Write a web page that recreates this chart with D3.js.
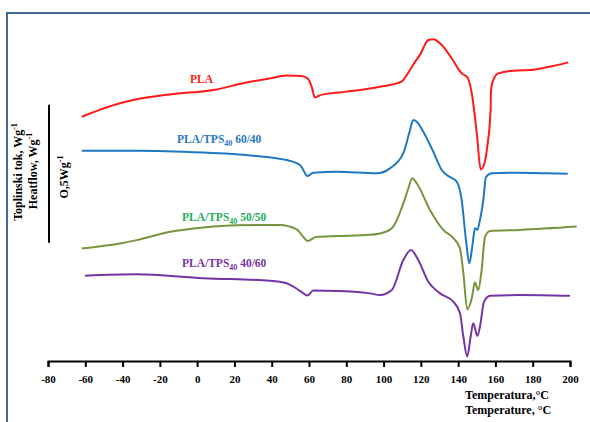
<!DOCTYPE html>
<html>
<head>
<meta charset="utf-8">
<script src="https://cdn.jsdelivr.net/npm/d3@7"></script>
<style>
body { margin: 0; background: #fff; }
text { font-family: "Liberation Serif", "Times New Roman", serif; font-weight: bold; }
</style>
</head>
<body>
<div id="chart"></div>
<script>
// DSC heating curves, heat flow in W/g (curves are stacked with their own offsets)

var tempTicks = [-80, -60, -40, -20, 0, 20, 40, 60, 80, 100, 120, 140, 160, 180, 200];

var plaT = [-61.9, -41.4, -32.4, -14.6, 10.5, 24.6, 39.1, 48.0, 56.1, 59.6, 61.4, 63.2, 65.0, 67.7, 80.2, 98.1,
  109.7, 112.4, 116.9, 119.5, 124.0, 126.7, 131.2, 136.5, 141.9, 144.9, 147.3, 150.0, 152.1, 153.5, 155.6,
  157.4, 157.6, 158.5, 161.5, 169.6, 178.5, 187.5, 199.1];
var plaQ = [0.885, 0.934, 0.948, 0.966, 0.984, 1.006, 1.024, 1.034, 1.033, 1.022, 0.994, 0.955, 0.960, 0.966, 0.976, 0.994,
  1.012, 1.036, 1.084, 1.109, 1.163, 1.166, 1.145, 1.097, 1.042, 1.028, 0.970, 0.825, 0.694, 0.704, 0.776,
  0.909, 0.976, 1.012, 1.042, 1.052, 1.054, 1.064, 1.082];

var b6040T = [-61.9, -32.4, 3.3, 30.1, 48.0, 55.2, 56.9, 59.1, 62.3, 74.9, 96.3, 103.4, 110.6, 114.2, 115.9, 117.8,
  121.3, 126.7, 131.2, 134.7, 139.2, 141.9, 144.2, 146.0, 147.8, 149.0, 150.3, 151.7, 153.5, 154.9, 158.0,
  169.6, 187.5, 198.8];
var b6040Q = [0.762, 0.762, 0.755, 0.744, 0.728, 0.710, 0.692, 0.670, 0.682, 0.686, 0.680, 0.698, 0.753, 0.837, 0.873, 0.867,
  0.831, 0.758, 0.692, 0.670, 0.650, 0.583, 0.438, 0.354, 0.426, 0.481, 0.475, 0.511, 0.583, 0.666, 0.680,
  0.682, 0.680, 0.678];

var b5050T = [-61.9, -41.4, -32.4, -14.6, 3.3, 21.2, 44.4, 53.4, 56.9, 59.1, 64.1, 74.9, 92.7, 102.5, 105.2, 110.6,
  113.3, 115.4, 117.8, 124.9, 132.0, 137.4, 141.0, 142.8, 144.9, 147.3, 149.0, 150.8, 152.6, 154.4, 157.1,
  173.2, 203.6];
var b5050Q = [0.408, 0.426, 0.438, 0.468, 0.484, 0.492, 0.493, 0.477, 0.450, 0.435, 0.450, 0.453, 0.457, 0.472, 0.487, 0.571,
  0.626, 0.662, 0.644, 0.547, 0.475, 0.445, 0.408, 0.318, 0.187, 0.227, 0.284, 0.257, 0.330, 0.450, 0.471,
  0.475, 0.487];

var b4060T = [-60.2, -32.4, 3.3, 39.1, 48.0, 55.2, 59.1, 62.3, 74.9, 92.7, 98.1, 104.4, 110.6, 114.7, 118.6, 124.0,
  130.3, 137.4, 141.0, 142.8, 144.9, 146.7, 148.1, 150.3, 151.7, 153.9, 157.1, 173.2, 200];
var b4060Q = [0.309, 0.314, 0.300, 0.291, 0.282, 0.254, 0.237, 0.255, 0.254, 0.245, 0.239, 0.257, 0.366, 0.402, 0.366, 0.287,
  0.245, 0.215, 0.173, 0.088, 0.016, 0.088, 0.137, 0.091, 0.124, 0.215, 0.236, 0.239, 0.236];

var svgWidth = 590;
var svgHeight = 422;

var svg = d3.select("#chart")
  .append("svg")
  .attr("width", svgWidth)
  .attr("height", svgHeight);

// frame of the original figure
svg.append("path")
  .attr("d", "M7,422V13H592")
  .attr("fill", "none")
  .attr("stroke", "#44699f")
  .attr("stroke-width", 2);

var xScale = d3.scaleLinear().domain([-80, 200]).range([48, 570]);
var yScale = d3.scaleLinear().domain([0, 1]).range([361, 85]);

var xAxis = d3.axisBottom(xScale)
  .tickValues(tempTicks)
  .tickFormat(function(d) { return String(d); })
  .tickSizeInner(6)
  .tickSizeOuter(6)
  .tickPadding(8);

var axisG = svg.append("g")
  .attr("transform", "translate(0,361)")
  .call(xAxis);
axisG.select(".domain").attr("stroke-width", 2);
axisG.selectAll(".tick line").attr("stroke-width", 2);
axisG.selectAll(".tick text")
  .attr("font-size", "11px");

svg.append("text").attr("x", 465).attr("y", 399).attr("font-size", "12px").text("Temperatura,°C");
svg.append("text").attr("x", 465).attr("y", 414).attr("font-size", "12px").text("Temperature,  °C");

var line = d3.line()
  .x(function(d) { return xScale(d[0]); })
  .y(function(d) { return yScale(d[1]); })
  .curve(d3.curveMonotoneX);

var series = [
  { t: plaT, q: plaQ, color: "#ff1a1a" },
  { t: b6040T, q: b6040Q, color: "#1f78c4" },
  { t: b5050T, q: b5050Q, color: "#77953e" },
  { t: b4060T, q: b4060Q, color: "#7434a6" }
];

series.forEach(function(s) {
  svg.append("path")
    .datum(d3.zip(s.t, s.q))
    .attr("d", line)
    .attr("fill", "none")
    .attr("stroke", s.color)
    .attr("stroke-width", 2)
    .attr("stroke-linejoin", "round");
});

// curve labels
function curveLabel(x, y, color, ratio) {
  var t = svg.append("text").attr("x", x).attr("y", y).attr("fill", color).attr("font-size", "11.5px");
  if (!ratio) { t.text("PLA"); return; }
  t.append("tspan").text("PLA/TPS");
  t.append("tspan").attr("font-size", "8px").attr("dy", 3).text("40");
  t.append("tspan").attr("dy", -3).text(" " + ratio);
}
curveLabel(190, 83, "#ff1a1a");
curveLabel(177, 143, "#1f78c4", "60/40");
curveLabel(182, 221, "#1fae5a", "50/50");
curveLabel(182, 267, "#7434a6", "40/60");

// y labels and 0.5 W/g scale bar
function rotLabel(x, y, main, size) {
  var t = svg.append("text")
    .attr("transform", "translate(" + x + "," + y + ") rotate(-90)")
    .attr("text-anchor", "middle")
    .attr("font-size", size);
  t.append("tspan").text(main);
  t.append("tspan").attr("font-size", "8px").attr("dy", -5).text("-1");
}
rotLabel(22, 172, "Toplinski  tok,  Wg", "12px");
rotLabel(37, 171, "Heatflow,  Wg", "12px");
rotLabel(68, 177, "O,5Wg", "12px");

svg.append("line")
  .attr("x1", 49).attr("x2", 49)
  .attr("y1", yScale(0.928)).attr("y2", yScale(0.428))
  .attr("stroke", "#000")
  .attr("stroke-width", 2);
</script>
</body>
</html>
